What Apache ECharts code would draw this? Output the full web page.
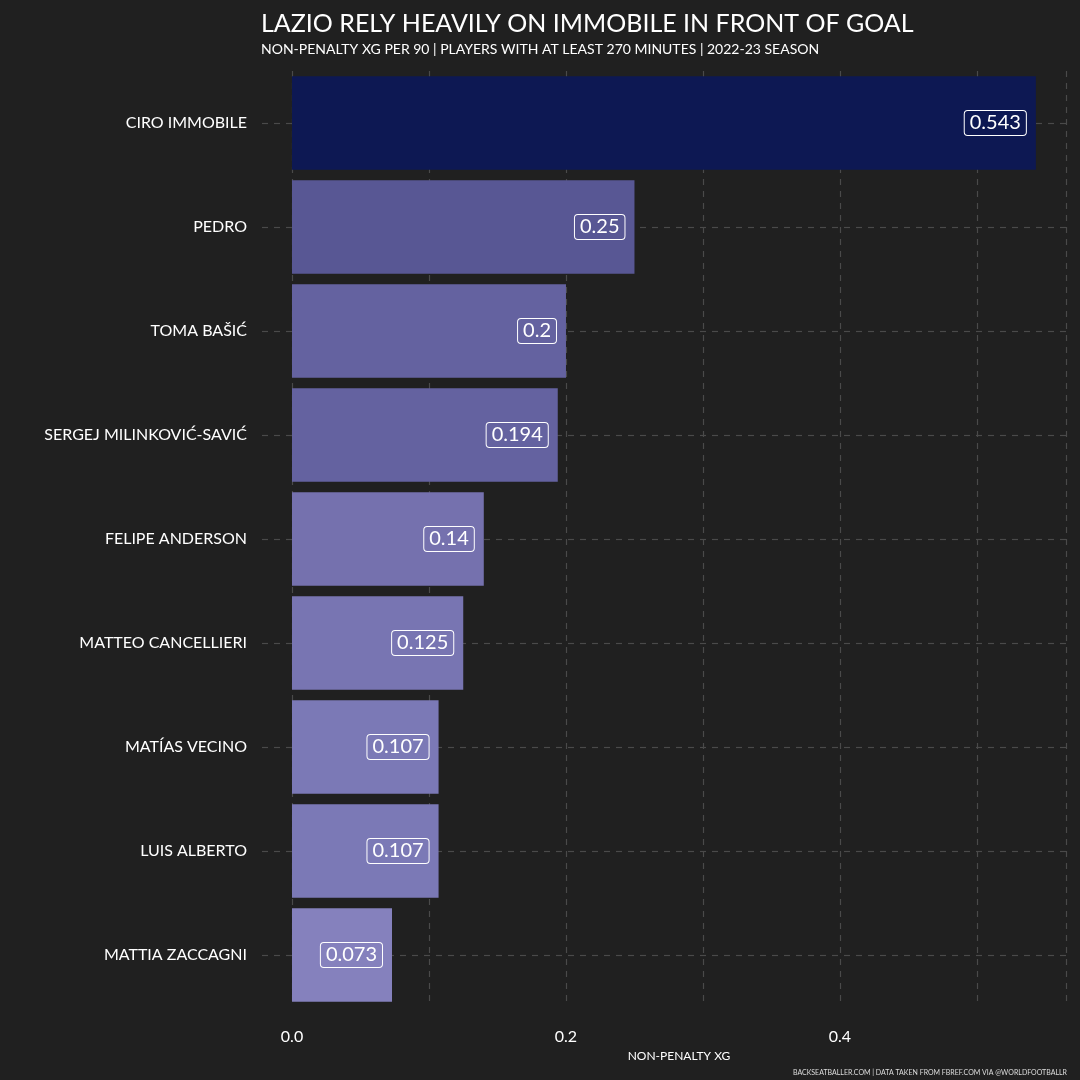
<!DOCTYPE html>
<html lang="en">
<head>
<meta charset="UTF-8">
<title>Lazio npxG</title>
<script src="https://cdn.jsdelivr.net/npm/echarts@6/dist/echarts.min.js"></script>
<style>html,body{margin:0;background:#202020;}#chart{width:1080px;height:1080px;}</style>
</head>
<body>
<div id="chart"></div>
<script>
var players = ['CIRO IMMOBILE', 'PEDRO', 'TOMA BAŠIĆ', 'SERGEJ MILINKOVIĆ-SAVIĆ', 'FELIPE ANDERSON',
    'MATTEO CANCELLIERI', 'MATÍAS VECINO', 'LUIS ALBERTO', 'MATTIA ZACCAGNI'];
var npxg = [0.543, 0.25, 0.2, 0.194, 0.14, 0.125, 0.107, 0.107, 0.073];
var barColors = ['#0d1853', '#585794', '#6462a0', '#6462a0', '#7571ae', '#7875b2', '#7b79b6', '#7b79b6', '#8581bd'];
var xTicks = ['0.0', '', '0.2', '', '0.4', ''];

var chart = echarts.init(document.getElementById('chart'));
var font = 'Lato';
var dashed = {color: '#4a4a4a', type: [6, 6], width: 1.2};

chart.setOption({
    backgroundColor: '#202020',
    textStyle: {fontFamily: font},
    title: [
        {text: 'LAZIO RELY HEAVILY ON IMMOBILE IN FRONT OF GOAL', left: 256, top: 6,
            textStyle: {color: '#ffffff', fontSize: 25, fontWeight: 'normal', fontFamily: font}},
        {text: 'NON-PENALTY XG PER 90 | PLAYERS WITH AT LEAST 270 MINUTES | 2022-23 SEASON', left: 256, top: 37,
            textStyle: {color: '#ffffff', fontSize: 14, fontWeight: 'normal', fontFamily: font}},
        {text: 'BACKSEATBALLER.COM | DATA TAKEN FROM FBREF.COM VIA @WORLDFOOTBALLR', right: 8, top: 1064,
            textStyle: {color: '#dddddd', fontSize: 7, fontWeight: 'normal', fontFamily: font}}
    ],
    grid: {left: 292, right: 1080 - 1066, top: 71, bottom: 1080 - 1007, containLabel: false},
    xAxis: {
        type: 'value', min: 0, max: 0.565, interval: 0.1,
        name: 'NON-PENALTY XG', nameLocation: 'middle', nameGap: 37,
        nameTextStyle: {color: '#ffffff', fontSize: 12},
        axisLine: {show: false}, axisTick: {show: false},
        axisLabel: {color: '#ffffff', fontSize: 16, margin: 22,
            formatter: function (v) { return xTicks[Math.round(v * 10)] || ''; }},
        splitLine: {show: true, lineStyle: dashed}
    },
    yAxis: {
        type: 'category', data: players, inverse: true,
        axisLine: {show: false},
        axisTick: {show: true, alignWithLabel: true, length: 36, lineStyle: dashed},
        axisLabel: {color: '#ffffff', fontSize: 16, margin: 45},
        splitLine: {show: false}
    },
    series: [
        {   // dashed guide lines through each category
            type: 'line', data: players.map(function () { return 0.565; }), silent: true,
            symbol: 'none', lineStyle: {opacity: 0}, z: 0
        },
        {
            type: 'bar', barCategoryGap: '10%', z: 2,
            data: npxg.map(function (v, i) { return {value: v, itemStyle: {color: barColors[i]}}; }),
            markLine: {
                silent: true, symbol: 'none', label: {show: false}, z: 0,
                lineStyle: dashed,
                data: players.map(function (p) { return [{coord: [0, p]}, {coord: [0.565, p]}]; })
            },
            label: {
                show: true, position: 'insideRight', distance: 10,
                color: '#ffffff', fontSize: 20, fontFamily: font,
                backgroundColor: 'inherit', borderColor: '#ffffff', borderWidth: 1,
                borderRadius: 3, padding: [3, 5, 1, 5]
            }
        }
    ]
});
</script>
</body>
</html>
